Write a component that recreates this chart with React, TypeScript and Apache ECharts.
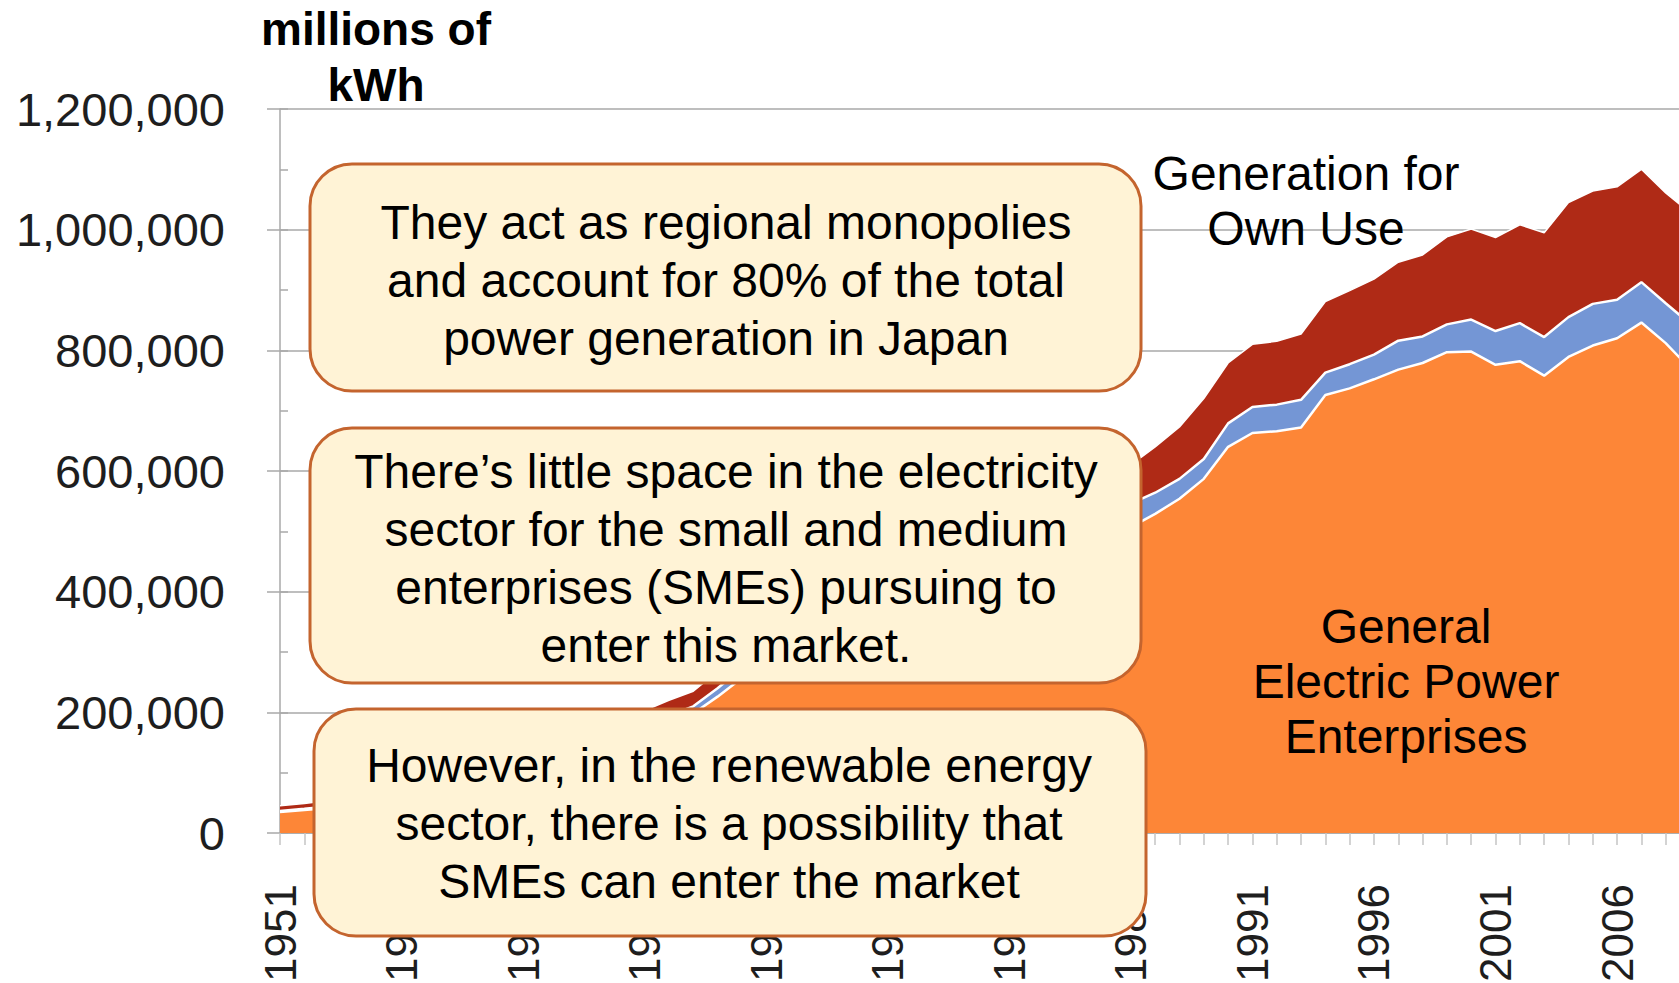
import React, { useEffect, useRef } from 'react';
import * as echarts from 'echarts';

const years = [
  '1951','1952','1953','1954','1955','1956','1957','1958','1959','1960',
  '1961','1962','1963','1964','1965','1966','1967','1968','1969','1970',
  '1971','1972','1973','1974','1975','1976','1977','1978','1979','1980',
  '1981','1982','1983','1984','1985','1986','1987','1988','1989','1990',
  '1991','1992','1993','1994','1995','1996','1997','1998','1999','2000',
  '2001','2002','2003','2004','2005','2006','2007','2008','2009',
];

// General Electric Power Enterprises (millions of kWh)
const generalElectric = [
  35000, 38000, 41500, 44500, 49500, 56000, 62000, 64000, 75000, 88000,
  101000, 108000, 123000, 140000, 149000, 168000, 183000, 198000, 226000, 257000,
  272000, 302000, 332000, 324000, 330000, 360000, 371000, 402000, 424000, 417000,
  422000, 423000, 450000, 477000, 490000, 507000, 529000, 554000, 587000, 640000,
  663000, 666000, 672000, 726000, 737000, 752000, 768000, 779000, 797000, 798000,
  776000, 782000, 758000, 789000, 808000, 820000, 846000, 812000, 770000,
];

// Other electric utilities (middle layer)
const otherUtilities = [
  1500, 2000, 2500, 3000, 3500, 4000, 5000, 6000, 7000, 8000,
  9000, 9000, 10000, 10000, 11000, 11000, 12000, 12000, 14000, 16000,
  18000, 20000, 22000, 24000, 26000, 28000, 29000, 31000, 32000, 33000,
  34000, 35000, 36000, 37000, 38000, 39000, 35000, 33000, 33000, 39000,
  43000, 44000, 46000, 37000, 40000, 41000, 48000, 44000, 46000, 53000,
  56000, 63000, 64000, 66000, 69000, 64000, 67000, 66000, 74000,
];

// Generation for Own Use (top layer)
const ownUse = [
  8500, 9000, 10000, 10500, 11000, 12000, 13000, 14000, 15000, 17000,
  19000, 20000, 22000, 23000, 24000, 24000, 25000, 25000, 28000, 32000,
  35000, 38000, 41000, 42000, 44000, 47000, 50000, 52000, 54000, 55000,
  56000, 57000, 59000, 61000, 62000, 64000, 76000, 86000, 100000, 100000,
  104000, 105000, 109000, 118000, 122000, 125000, 130000, 135000, 145000, 150000,
  155000, 163000, 173000, 190000, 187000, 187000, 187000, 183000, 184000,
];

const yTicks = [0, 200000, 400000, 600000, 800000, 1000000, 1200000];

const boxTexts = [
  'They act as regional monopolies\nand account for 80% of the total\npower generation in Japan',
  'There\u2019s little space in the electricity\nsector for the small and medium\nenterprises (SMEs) pursuing to\nenter this market.',
  'However, in the renewable energy\nsector, there is a possibility that\nSMEs can enter the market',
];

const FONT = '"Liberation Sans", Arial, Helvetica, sans-serif';
const GRID_COLOR = '#a9a9a9';

export default function App() {
  const ref = useRef<HTMLDivElement>(null);

  useEffect(() => {
    if (!ref.current) return;
    const chart = echarts.init(ref.current, undefined, { renderer: 'svg' });

    const boxStyle = { fill: '#FFF3D6', stroke: '#C4642E', lineWidth: 3 };
    const textStyle = (text: string, x: number, y: number, lh: number) => ({
      type: 'text',
      x,
      y,
      z: 101,
      style: {
        text,
        fill: '#000',
        font: `48px ${FONT}`,
        textAlign: 'center',
        textVerticalAlign: 'middle',
        lineHeight: lh,
      },
    });

    chart.setOption({
      animation: false,
      backgroundColor: '#ffffff',
      grid: {
        left: 280,
        top: 109,
        right: -11,
        bottom: 150,
        containLabel: false,
        outerBoundsMode: 'none',
      },
      xAxis: {
        type: 'category',
        data: years,
        boundaryGap: false,
        axisLine: { show: true, lineStyle: { color: GRID_COLOR, width: 1.5 } },
        axisTick: { show: true, interval: 0, length: 12, lineStyle: { color: '#c4c4c4', width: 1.5 } },
        axisLabel: {
          interval: 4,
          rotate: 90,
          margin: 51,
          fontSize: 44,
          fontFamily: FONT,
          color: '#1e1e1e',
        },
        splitLine: { show: false },
      },
      yAxis: [
        {
          type: 'value',
          position: 'left',
          min: yTicks[0],
          max: yTicks[yTicks.length - 1],
          interval: yTicks[1] - yTicks[0],
          axisLine: { show: true, lineStyle: { color: GRID_COLOR, width: 1.5 } },
          axisTick: { show: true, length: 13, lineStyle: { color: GRID_COLOR, width: 1.5 } },
          axisLabel: {
            margin: 55,
            fontSize: 47,
            fontFamily: FONT,
            color: '#1e1e1e',
            formatter: (v: number) => v.toLocaleString('en-US'),
          },
          splitLine: { show: true, lineStyle: { color: GRID_COLOR, width: 1.5 } },
        },
        {
          type: 'value',
          position: 'left',
          min: yTicks[0],
          max: yTicks[yTicks.length - 1],
          interval: (yTicks[1] - yTicks[0]) / 2,
          axisLine: { show: false },
          axisTick: { show: true, inside: true, length: 8, lineStyle: { color: GRID_COLOR, width: 1.5 } },
          axisLabel: { show: false },
          splitLine: { show: false },
        },
      ],
      series: [
        {
          name: 'General Electric Power Enterprises',
          type: 'line',
          stack: 'total',
          data: generalElectric,
          symbol: 'none',
          showSymbol: false,
          lineStyle: { color: '#ffffff', width: 2.5 },
          areaStyle: { color: '#FD8637', opacity: 1 },
          z: 3,
        },
        {
          name: 'Other Utilities',
          type: 'line',
          stack: 'total',
          data: otherUtilities,
          symbol: 'none',
          showSymbol: false,
          lineStyle: { color: '#ffffff', width: 2.5 },
          areaStyle: { color: '#7496D5', opacity: 1 },
          z: 2,
        },
        {
          name: 'Generation for Own Use',
          type: 'line',
          stack: 'total',
          data: ownUse,
          symbol: 'none',
          showSymbol: false,
          lineStyle: { color: '#ffffff', width: 1.5 },
          areaStyle: { color: '#AF2A16', opacity: 1 },
          z: 1,
        },
      ],
      graphic: [
        {
          type: 'text',
          x: 376,
          y: 57,
          z: 101,
          style: {
            text: 'millions of\nkWh',
            fill: '#000',
            font: `bold 46px ${FONT}`,
            textAlign: 'center',
            textVerticalAlign: 'middle',
            lineHeight: 56,
          },
        },
        textStyle('Generation for\nOwn Use', 1306, 201, 55),
        textStyle('General\nElectric Power\nEnterprises', 1406, 681, 55),
        { type: 'rect', z: 100, shape: { x: 310, y: 164, width: 831, height: 227, r: 42 }, style: boxStyle },
        { type: 'rect', z: 100, shape: { x: 310, y: 428, width: 831, height: 255, r: 42 }, style: boxStyle },
        { type: 'rect', z: 100, shape: { x: 314, y: 709, width: 832, height: 227, r: 42 }, style: boxStyle },
        textStyle(boxTexts[0], 726, 280, 58),
        textStyle(boxTexts[1], 726, 558, 58),
        textStyle(boxTexts[2], 729, 823, 58),
      ],
    });

    return () => chart.dispose();
  }, []);

  return (
    <div
      ref={ref}
      style={{ position: 'absolute', left: 0, top: 0, width: 1679, height: 983 }}
    />
  );
}
